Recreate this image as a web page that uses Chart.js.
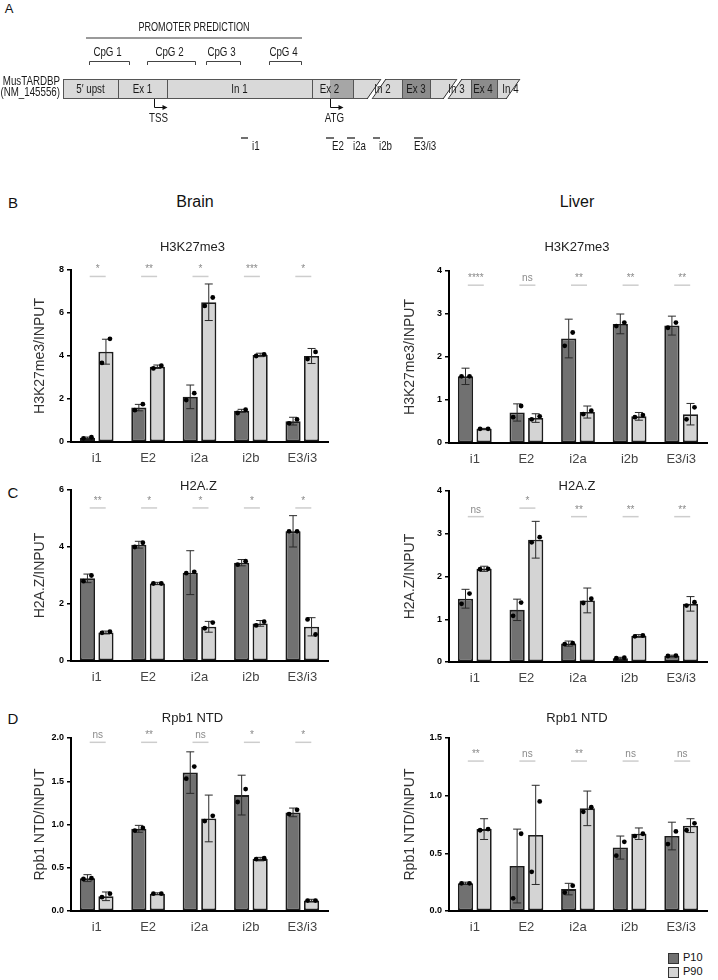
<!DOCTYPE html>
<html><head><meta charset="utf-8">
<script src="https://cdn.jsdelivr.net/npm/chart.js@4.4.1/dist/chart.umd.min.js"></script>
<style>
body{margin:0;background:#fff;}
#page{position:relative;width:718px;height:980px;overflow:hidden;font-family:"Liberation Sans",Arial,Helvetica,sans-serif;color:#111;background:#fff;}
.box{position:absolute;}
.lab{position:absolute;white-space:nowrap;line-height:1;transform:translate(-50%,-50%);}
.leg{position:absolute;white-space:nowrap;line-height:1;font-size:11px;color:#111;}
.sw{position:absolute;width:9px;height:9px;border:1px solid #333;}
</style></head><body>
<div id="page">
  <div class="lab" style="left:9px;top:8px;font-size:13px;">A</div>
  <div class="lab" style="left:13px;top:202px;font-size:15px;">B</div>
  <div class="lab" style="left:195px;top:202px;font-size:16px;">Brain</div>
  <div class="lab" style="left:577px;top:202px;font-size:16px;">Liver</div>
  <div class="lab" style="left:13px;top:492px;font-size:15px;">C</div>
  <div class="lab" style="left:13px;top:718px;font-size:15px;">D</div>
  <div class="sw" style="left:668px;top:953px;background:#717171;"></div>
  <div class="leg" style="left:683px;top:952px;">P10</div>
  <div class="sw" style="left:668px;top:967px;background:#d4d4d4;"></div>
  <div class="leg" style="left:683px;top:966px;">P90</div>
</div>
<script>
// ---------------- DATA ----------------
const categories = ['i1','E2','i2a','i2b','E3/i3'];
const seriesNames = ['P10','P90'];

// Brain – H3K27me3
const brainH3K27_P10 = [0.2, 1.6, 2.1, 1.45, 0.97];
const brainH3K27_P10_err = [0.03, 0.15, 0.55, 0.07, 0.18];
const brainH3K27_P10_pts = [[0.17,0.22],[1.48,1.76],[1.95,2.27],[1.35,1.5],[0.87,1.05]];
const brainH3K27_P90 = [4.2, 3.5, 6.5, 4.05, 4.0];
const brainH3K27_P90_err = [0.58, 0.08, 0.85, 0.08, 0.35];
const brainH3K27_P90_pts = [[3.68,4.8],[3.42,3.55],[6.33,6.72],[4.0,4.08],[3.86,4.19]];
const brainH3K27_sig = ['*','**','*','***','*'];
const brainH3K27_sigAt = [7.7,7.7,7.7,7.7,7.7];
const brainH3K27_ticks = ['0','2','4','6','8'];

// Liver – H3K27me3
const liverH3K27_P10 = [1.55, 0.71, 2.43, 2.77, 2.73];
const liverH3K27_P10_err = [0.19, 0.2, 0.45, 0.23, 0.22];
const liverH3K27_P10_pts = [[1.55,1.55],[0.6,0.86],[2.26,2.57],[2.72,2.8],[2.68,2.8]];
const liverH3K27_P90 = [0.33, 0.58, 0.72, 0.62, 0.67];
const liverH3K27_P90_err = [0.01, 0.1, 0.14, 0.09, 0.25];
const liverH3K27_P90_pts = [[0.33,0.33],[0.55,0.62],[0.67,0.75],[0.6,0.65],[0.55,0.83]];
const liverH3K27_sig = ['****','ns','**','**','**'];
const liverH3K27_sigAt = [3.67,3.67,3.67,3.67,3.67];
const liverH3K27_ticks = ['0','1','2','3','4'];

// Brain – H2A.Z
const brainH2AZ_P10 = [2.9, 4.08, 3.1, 3.45, 4.55];
const brainH2AZ_P10_err = [0.15, 0.12, 0.77, 0.11, 0.55];
const brainH2AZ_P10_pts = [[2.8,3.0],[4.0,4.15],[3.08,3.13],[3.38,3.5],[4.55,4.55]];
const brainH2AZ_P90 = [1.0, 2.72, 1.2, 1.32, 1.2];
const brainH2AZ_P90_err = [0.05, 0.04, 0.19, 0.1, 0.32];
const brainH2AZ_P90_pts = [[0.99,1.03],[2.72,2.72],[1.15,1.35],[1.25,1.38],[1.46,0.93]];
const brainH2AZ_sig = ['**','*','*','*','*'];
const brainH2AZ_sigAt = [5.37,5.37,5.37,5.37,5.37];
const brainH2AZ_ticks = ['0','2','4','6'];

// Liver – H2A.Z
const liverH2AZ_P10 = [1.48, 1.22, 0.43, 0.09, 0.14];
const liverH2AZ_P10_err = [0.22, 0.25, 0.06, 0.02, 0.02];
const liverH2AZ_P10_pts = [[1.36,1.6],[1.08,1.39],[0.42,0.44],[0.09,0.1],[0.14,0.15]];
const liverH2AZ_P90 = [2.18, 2.86, 1.44, 0.61, 1.36];
const liverH2AZ_P90_err = [0.06, 0.43, 0.29, 0.03, 0.17];
const liverH2AZ_P90_pts = [[2.17,2.18],[2.8,2.92],[1.38,1.48],[0.6,0.62],[1.32,1.4]];
const liverH2AZ_sig = ['ns','*','**','**','**'];
const liverH2AZ_sigAt = [3.4,3.6,3.4,3.4,3.4];
const liverH2AZ_ticks = ['0','1','2','3','4'];

// Brain – Rpb1 NTD
const brainRpb1_P10 = [0.38, 0.95, 1.6, 1.34, 1.14];
const brainRpb1_P10_err = [0.04, 0.04, 0.24, 0.23, 0.05];
const brainRpb1_P10_pts = [[0.37,0.38],[0.93,0.96],[1.53,1.67],[1.26,1.41],[1.12,1.17]];
const brainRpb1_P90 = [0.17, 0.2, 1.07, 0.6, 0.12];
const brainRpb1_P90_err = [0.05, 0.01, 0.27, 0.02, 0.015];
const brainRpb1_P90_pts = [[0.16,0.2],[0.2,0.2],[1.04,1.1],[0.6,0.61],[0.12,0.12]];
const brainRpb1_sig = ['ns','**','ns','*','*'];
const brainRpb1_sigAt = [1.95,1.95,1.95,1.95,1.95];
const brainRpb1_ticks = ['0.0','0.5','1.0','1.5','2.0'];

// Liver – Rpb1 NTD
const liverRpb1_P10 = [0.24, 0.39, 0.19, 0.55, 0.65];
const liverRpb1_P10_err = [0.01, 0.32, 0.05, 0.1, 0.12];
const liverRpb1_P10_pts = [[0.24,0.24],[0.11,0.67],[0.16,0.22],[0.48,0.6],[0.58,0.69]];
const liverRpb1_P90 = [0.71, 0.66, 0.89, 0.67, 0.74];
const liverRpb1_P90_err = [0.09, 0.43, 0.15, 0.05, 0.06];
const liverRpb1_P90_pts = [[0.7,0.71],[0.34,0.95],[0.86,0.9],[0.65,0.67],[0.7,0.76]];
const liverRpb1_sig = ['**','ns','**','ns','ns'];
const liverRpb1_sigAt = [1.3,1.3,1.3,1.3,1.3];
const liverRpb1_ticks = ['0.0','0.5','1.0','1.5'];

// Gene map (panel A), positions in map units along the locus
const geneName = ['MusTARDBP','(NM_145556)'];
const segmentNames = ['5\u2032 upst','Ex 1','In 1','Ex 2','In 2','Ex 3','In 3','Ex 4','In 4'];
const segmentKind  = ['up','exon','intron','exon','intron','exon','intron','exon','intron'];
const segmentStart = [0, 55, 104, 249, 290, 339, 367, 408, 434];
const segmentEnd   = [55, 104, 249, 290, 339, 367, 408, 434, 457];
const codingStart = 267;
const breakAt = [304, 380];
const promoterRange = [23, 239];
const cpgNames = ['CpG 1','CpG 2','CpG 3','CpG 4'];
const cpgStart = [26, 84, 143, 206];
const cpgEnd   = [67, 133, 178, 239];
const tssAt = 91, atgAt = 267;
const primerNames = ['i1','E2','i2a','i2b','E3/i3'];
const primerStart = [178, 263, 284, 310, 351];
const primerEnd   = [185, 271, 292, 317, 360];

// ---------------- RENDER ----------------
const FONT = '"Liberation Sans", Arial, Helvetica, sans-serif';
const page = document.getElementById('page');
function addCanvas(L){
  const d=document.createElement('div'); d.className='box';
  d.style.left=L.left+'px'; d.style.top=L.top+'px'; d.style.width=L.w+'px'; d.style.height=L.h+'px';
  const c=document.createElement('canvas'); c.width=L.w; c.height=L.h;
  c.style.width=L.w+'px'; c.style.height=L.h+'px';
  d.appendChild(c); page.appendChild(d); return c;
}

const geneMapPlugin = {
  id:'geneMap',
  afterDraw(chart){
    const ctx=chart.ctx;
    const X=v=>chart.scales.x.getPixelForValue(v), Y=v=>chart.scales.y.getPixelForValue(v);
    function txt(s,x,y,align,size,sx){
      ctx.save(); ctx.font=size+'px '+FONT; ctx.fillStyle='#1a1a1a'; ctx.textBaseline='middle';
      ctx.translate(x,y); ctx.scale(sx||0.75,1); ctx.textAlign=align; ctx.fillText(s,0,0); ctx.restore();
    }
    function line(x1,y1,x2,y2){ctx.beginPath();ctx.moveTo(x1,y1);ctx.lineTo(x2,y2);ctx.stroke();}
    // promoter prediction
    txt('PROMOTER PREDICTION',(X(promoterRange[0])+X(promoterRange[1]))/2,Y(27),'center',13,0.7);
    ctx.strokeStyle='#9a9a9a'; ctx.lineWidth=2;
    line(X(promoterRange[0]),Y(38),X(promoterRange[1]),Y(38));
    // CpG islands
    ctx.strokeStyle='#444'; ctx.lineWidth=1;
    cpgNames.forEach((n,i)=>{
      const a=X(cpgStart[i]), b=X(cpgEnd[i]);
      txt(n,(a+b)/2-2,Y(52),'center',13);
      ctx.beginPath(); ctx.moveTo(a+0.5,Y(65)); ctx.lineTo(a+0.5,Y(61)+0.5); ctx.lineTo(b-0.5,Y(61)+0.5); ctx.lineTo(b-0.5,Y(65)); ctx.stroke();
    });
    // gene box
    const top=Y(79), bot=Y(99);
    segmentNames.forEach((n,i)=>{
      const a=X(segmentStart[i]), b=X(segmentEnd[i]);
      ctx.fillStyle='#d9d9d9'; ctx.fillRect(a,top,b-a,bot-top);
      if(segmentKind[i]==='exon' && segmentEnd[i]>codingStart){
        const s=Math.max(segmentStart[i],codingStart);
        ctx.fillStyle = segmentStart[i]<codingStart ? '#a6a6a6' : '#8c8c8c';
        ctx.fillRect(X(s),top,b-X(s),bot-top);
      }
    });
    ctx.strokeStyle='#555'; ctx.lineWidth=1;
    const x0=X(segmentStart[0]), x1=X(segmentEnd[segmentEnd.length-1]);
    line(x0,top+0.5,x1,top+0.5); line(x0,bot-0.5,x1,bot-0.5);
    segmentStart.forEach(s=>{ line(Math.round(X(s))+0.5,top,Math.round(X(s))+0.5,bot); });
    // breaks in introns
    breakAt.forEach(b=>{
      ctx.fillStyle='#fff';
      ctx.beginPath(); ctx.moveTo(X(b),bot+1); ctx.lineTo(X(b+14),top-1); ctx.lineTo(X(b+19),top-1); ctx.lineTo(X(b+5),bot+1); ctx.closePath(); ctx.fill();
      ctx.strokeStyle='#333'; ctx.lineWidth=1;
      line(X(b),bot,X(b+14),top); line(X(b+5),bot,X(b+19),top);
    });
    // slanted end
    const e=segmentEnd[segmentEnd.length-1];
    ctx.fillStyle='#fff';
    ctx.beginPath(); ctx.moveTo(X(e-14),bot+1); ctx.lineTo(X(e)+2,bot+1); ctx.lineTo(X(e)+2,top-1); ctx.lineTo(X(e),top-1); ctx.closePath(); ctx.fill();
    ctx.strokeStyle='#333'; line(X(e-14),bot,X(e),top);
    // segment labels
    const shift=[0,0,0,-3,5,0,6,-1,2];
    segmentNames.forEach((n,i)=>{ txt(n,(X(segmentStart[i])+X(segmentEnd[i]))/2+shift[i],Y(89),'center',13); });
    // gene name
    txt(geneName[0],x0-3,Y(81),'right',13);
    txt(geneName[1],x0-3,Y(92),'right',13);
    // TSS / ATG arrows
    ctx.strokeStyle='#111'; ctx.fillStyle='#111'; ctx.lineWidth=1;
    [[tssAt,'TSS'],[atgAt,'ATG']].forEach(([p,l])=>{
      const px=Math.round(X(p))+0.5, yy=Y(107)+0.5;
      ctx.beginPath(); ctx.moveTo(px,bot); ctx.lineTo(px,yy); ctx.lineTo(px+10,yy); ctx.stroke();
      ctx.beginPath(); ctx.moveTo(px+13,yy); ctx.lineTo(px+8,yy-2.5); ctx.lineTo(px+8,yy+2.5); ctx.closePath(); ctx.fill();
      txt(l,px+4,Y(118),'center',13);
    });
    // primers
    const ldx=[4,-2,-2,-1,-9];
    ctx.lineWidth=1.2; ctx.strokeStyle='#111';
    primerNames.forEach((n,i)=>{
      line(X(primerStart[i]),Y(138),X(primerEnd[i]),Y(138));
      txt(n,X(primerEnd[i])+ldx[i],Y(146),'left',13);
    });
  }
};
new Chart(addCanvas({left:0,top:0,w:718,h:165}),{
  type:'scatter', data:{datasets:[]},
  options:{responsive:false,animation:false,devicePixelRatio:1,layout:{padding:0},
    plugins:{legend:{display:false},tooltip:{enabled:false}},
    scales:{x:{type:'linear',min:-63,max:655,display:false},y:{type:'linear',min:0,max:165,reverse:true,display:false}}},
  plugins:[geneMapPlugin]
});

const marksPlugin = {
  id:'marks',
  afterDatasetsDraw(chart,args,o){
    const ctx=chart.ctx, ys=chart.scales.y, xs=chart.scales.x, ca=chart.chartArea;
    chart.data.datasets.forEach((ds,di)=>{
      const meta=chart.getDatasetMeta(di);
      meta.data.forEach((bar,j)=>{
        const v=ds.data[j], e=ds.err[j], x=bar.x;
        const yt=ys.getPixelForValue(v+e), yb=ys.getPixelForValue(v-e);
        ctx.strokeStyle='#2a2a2a'; ctx.lineWidth=1;
        ctx.beginPath(); ctx.moveTo(x,yt); ctx.lineTo(x,yb);
        ctx.moveTo(x-4,yt); ctx.lineTo(x+4,yt); ctx.moveTo(x-4,yb); ctx.lineTo(x+4,yb); ctx.stroke();
        ctx.fillStyle='#000';
        ds.pts[j].forEach((p,k)=>{ ctx.beginPath(); ctx.arc(x+(k?4:-4),ys.getPixelForValue(p),2.4,0,Math.PI*2); ctx.fill(); });
      });
    });
    // significance
    o.sig.forEach((s,j)=>{
      const xc=xs.getPixelForValue(j)+1, y=ys.getPixelForValue(o.sigAt[j]);
      ctx.strokeStyle='#cdcdcd'; ctx.lineWidth=1.5;
      ctx.beginPath(); ctx.moveTo(xc-8,y); ctx.lineTo(xc+8,y); ctx.stroke();
      ctx.fillStyle='#8a8a8a'; ctx.font='10px '+FONT; ctx.textAlign='center'; ctx.textBaseline='alphabetic';
      ctx.fillText(s,xc,y-4);
    });
    // title
    ctx.fillStyle='#222'; ctx.font='13px '+FONT; ctx.textAlign='center'; ctx.textBaseline='middle';
    ctx.fillText(o.title,(ca.left+ca.right)/2+o.dx,ca.top-o.dy);
  }
};

function makeChart(L, d){
  const tickVals=d.ticks.map(Number);
  new Chart(addCanvas(L),{
    type:'bar',
    data:{labels:categories,datasets:[
      {label:seriesNames[0],data:d.p10,err:d.p10e,pts:d.p10p,backgroundColor:'#717171',borderColor:'#1c1c1c',borderWidth:1.8,borderSkipped:false,categoryPercentage:0.72,barPercentage:0.82},
      {label:seriesNames[1],data:d.p90,err:d.p90e,pts:d.p90p,backgroundColor:'#d4d4d4',borderColor:'#1c1c1c',borderWidth:1.8,borderSkipped:false,categoryPercentage:0.72,barPercentage:0.82}
    ]},
    options:{
      responsive:false,animation:false,devicePixelRatio:1,
      layout:{padding:{left:0,right:L.pr,top:30,bottom:0}},
      plugins:{legend:{display:false},tooltip:{enabled:false},
        marks:{sig:d.sig,sigAt:d.sigAt,title:d.title,dx:L.tdx,dy:L.tdy}},
      scales:{
        x:{grid:{display:false,drawTicks:false},border:{display:true,color:'#000',width:2},
           ticks:{color:'#444',font:{size:13,family:FONT},padding:9},
           afterFit:s=>{s.height=30;}},
        y:{min:tickVals[0],max:tickVals[tickVals.length-1],
           ticks:{stepSize:tickVals[1]-tickVals[0],color:'#000',font:{size:9,weight:'bold',family:FONT},padding:3,
             callback:(v)=>{const i=tickVals.findIndex(t=>Math.abs(t-v)<1e-9);return i>=0?d.ticks[i]:'';}},
           grid:{display:true,drawOnChartArea:false,drawTicks:true,tickLength:4,color:'#000',lineWidth:1.5},
           border:{display:true,color:'#000',width:2},
           title:{display:true,text:d.ytitle,color:'#333',font:{size:14,family:FONT},padding:{top:L.ytp,bottom:0}},
           afterFit:s=>{s.width=L.yw;}}
      }
    },
    plugins:[marksPlugin]
  });
}

const leftCol={left:0,w:340,yw:71,pr:12,ytp:31.6};
const rightCol={left:360,w:358,yw:89,pr:11,ytp:41.6};

makeChart({...leftCol,top:240,h:232,tdx:-7,tdy:23},
  {title:'H3K27me3',ytitle:'H3K27me3/INPUT',ticks:brainH3K27_ticks,p10:brainH3K27_P10,p10e:brainH3K27_P10_err,p10p:brainH3K27_P10_pts,p90:brainH3K27_P90,p90e:brainH3K27_P90_err,p90p:brainH3K27_P90_pts,sig:brainH3K27_sig,sigAt:brainH3K27_sigAt});
makeChart({...rightCol,top:241,h:232,tdx:-1,tdy:24},
  {title:'H3K27me3',ytitle:'H3K27me3/INPUT',ticks:liverH3K27_ticks,p10:liverH3K27_P10,p10e:liverH3K27_P10_err,p10p:liverH3K27_P10_pts,p90:liverH3K27_P90,p90e:liverH3K27_P90_err,p90p:liverH3K27_P90_pts,sig:liverH3K27_sig,sigAt:liverH3K27_sigAt});
makeChart({...leftCol,top:460,h:231,tdx:-1,tdy:4},
  {title:'H2A.Z',ytitle:'H2A.Z/INPUT',ticks:brainH2AZ_ticks,p10:brainH2AZ_P10,p10e:brainH2AZ_P10_err,p10p:brainH2AZ_P10_pts,p90:brainH2AZ_P90,p90e:brainH2AZ_P90_err,p90p:brainH2AZ_P90_pts,sig:brainH2AZ_sig,sigAt:brainH2AZ_sigAt});
makeChart({...rightCol,top:461,h:231,tdx:-1,tdy:4.5},
  {title:'H2A.Z',ytitle:'H2A.Z/INPUT',ticks:liverH2AZ_ticks,p10:liverH2AZ_P10,p10e:liverH2AZ_P10_err,p10p:liverH2AZ_P10_pts,p90:liverH2AZ_P90,p90e:liverH2AZ_P90_err,p90p:liverH2AZ_P90_pts,sig:liverH2AZ_sig,sigAt:liverH2AZ_sigAt});
makeChart({...leftCol,top:708,h:233,tdx:-7,tdy:20},
  {title:'Rpb1 NTD',ytitle:'Rpb1 NTD/INPUT',ticks:brainRpb1_ticks,p10:brainRpb1_P10,p10e:brainRpb1_P10_err,p10p:brainRpb1_P10_pts,p90:brainRpb1_P90,p90e:brainRpb1_P90_err,p90p:brainRpb1_P90_pts,sig:brainRpb1_sig,sigAt:brainRpb1_sigAt});
makeChart({...rightCol,top:708,h:233,tdx:-1,tdy:20},
  {title:'Rpb1 NTD',ytitle:'Rpb1 NTD/INPUT',ticks:liverRpb1_ticks,p10:liverRpb1_P10,p10e:liverRpb1_P10_err,p10p:liverRpb1_P10_pts,p90:liverRpb1_P90,p90e:liverRpb1_P90_err,p90p:liverRpb1_P90_pts,sig:liverRpb1_sig,sigAt:liverRpb1_sigAt});
</script>
</body></html>
